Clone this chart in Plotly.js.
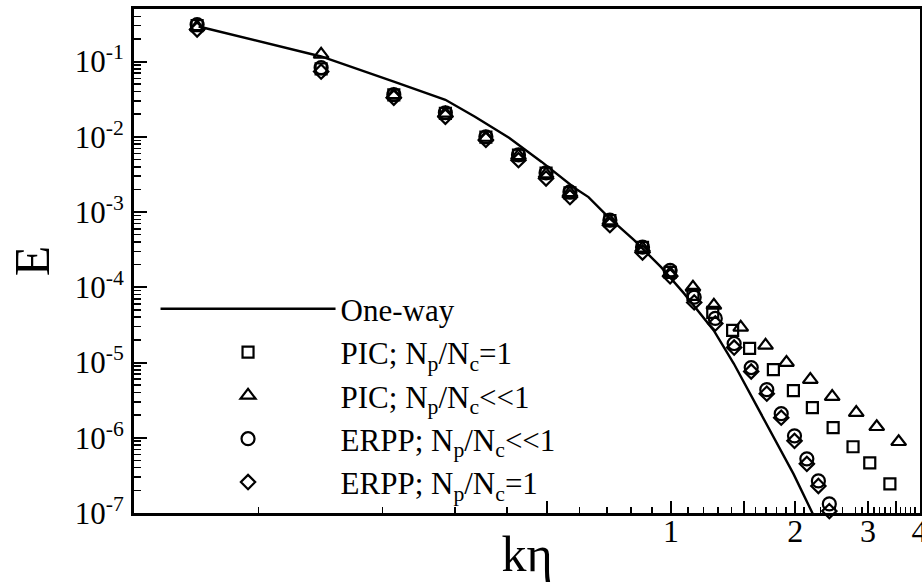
<!DOCTYPE html>
<html>
<head>
<meta charset="utf-8">
<script src="https://cdn.plot.ly/plotly-3.0.1.min.js"></script>
<style>
  html, body { margin: 0; padding: 0; background: #ffffff; }
  #chart { width: 922px; height: 582px; }
</style>
</head>
<body>
<div id="chart"></div>
<script>
// ---- Data ----
// One-way (solid line)
const kOneWay = [0.0717, 0.142, 0.213, 0.284, 0.335, 0.405, 0.486, 0.584, 0.631, 0.705, 0.814, 0.946, 1.075, 1.269, 1.419, 1.585, 1.77, 1.98, 2.2, 2.32];
const eOneWay = [0.293, 0.117, 0.054, 0.0311, 0.0185, 0.0097, 0.00464, 0.00209, 0.00158, 8.58e-4, 4.23e-4, 1.85e-4, 8.3e-5, 2.67e-5, 9.7e-6, 3.11e-6, 1.0e-6, 3.31e-7, 1.0e-7, 5.2e-8];

// PIC; Np/Nc=1 (squares)
const kPic1 = [0.0711, 0.142, 0.213, 0.284, 0.356, 0.427, 0.498, 0.569, 0.711, 0.853, 0.995, 1.13, 1.262, 1.41, 1.55, 1.77, 1.979, 2.2, 2.47, 2.76, 3.03, 3.39];
const ePic1 = [0.30, 0.080, 0.036, 0.0205, 0.0099, 0.0057, 0.0033, 0.0018, 7.7e-4, 3.4e-4, 1.58e-4, 8.07e-5, 4.64e-5, 2.67e-5, 1.54e-5, 8.07e-6, 4.23e-6, 2.51e-6, 1.36e-6, 7.59e-7, 4.64e-7, 2.44e-7];

// PIC; Np/Nc<<1 (triangles)
const kPicLow = [0.0711, 0.142, 0.213, 0.284, 0.356, 0.427, 0.498, 0.569, 0.711, 0.853, 0.995, 1.13, 1.27, 1.475, 1.694, 1.904, 2.175, 2.457, 2.81, 3.15, 3.56];
const ePicLow = [0.29, 0.125, 0.036, 0.0205, 0.0098, 0.0056, 0.0032, 0.0018, 7.6e-4, 3.3e-4, 1.54e-4, 1.0e-4, 5.75e-5, 2.93e-5, 1.69e-5, 1.0e-5, 5.93e-6, 3.52e-6, 2.16e-6, 1.4e-6, 8.85e-7];

// ERPP; Np/Nc<<1 (circles) and ERPP; Np/Nc=1 (diamonds)
const kErpp = [0.0711, 0.142, 0.213, 0.284, 0.356, 0.427, 0.498, 0.569, 0.711, 0.853, 0.995, 1.138, 1.280, 1.422, 1.564, 1.706, 1.849, 1.991, 2.133, 2.275, 2.418];
const eErppLow = [0.311, 0.083, 0.0363, 0.0209, 0.0100, 0.00575, 0.00331, 0.00185, 7.8e-4, 3.41e-4, 1.68e-4, 7.4e-5, 3.86e-5, 1.79e-5, 8.58e-6, 4.36e-6, 2.09e-6, 1.06e-6, 5.25e-7, 2.67e-7, 1.32e-7];
const eErpp1 = [0.267, 0.0736, 0.0331, 0.0185, 0.0091, 0.0049, 0.0028, 0.00158, 6.7e-4, 2.9e-4, 1.4e-4, 6.3e-5, 3.3e-5, 1.58e-5, 7.6e-6, 3.86e-6, 1.85e-6, 9.1e-7, 4.5e-7, 2.29e-7, 1.06e-7];

// Axis ticks
const xLabelVals = [1, 2, 3, 4];
const xLabelText = ["1", "2", "3", "4"];
const xLongUnlabeled = [0.5, 1.5, 3.5];
const xShortVals = [0.1, 0.2, 0.3, 0.4, 0.6, 0.7, 0.8, 0.9, 1.1, 1.2, 1.3, 1.4, 1.6, 1.7, 1.8, 1.9, 2.1, 2.3, 2.5, 2.6, 2.8, 2.9, 3.1, 3.2, 3.3, 3.4, 3.6, 3.7, 3.8, 3.9];
const yMajorVals = [1e-7, 1e-6, 1e-5, 1e-4, 1e-3, 1e-2, 1e-1];
const yMajorText = ["10<sup>-7</sup>", "10<sup>-6</sup>", "10<sup>-5</sup>", "10<sup>-4</sup>", "10<sup>-3</sup>", "10<sup>-2</sup>", "10<sup>-1</sup>"];
const yMinorMantissa = [2, 3, 4, 5, 6, 7, 8, 9];

const legendNames = [
  "One-way",
  "PIC; N<sub>p</sub>/N<sub>c</sub>=1",
  "PIC; N<sub>p</sub>/N<sub>c</sub>&lt;&lt;1",
  "ERPP; N<sub>p</sub>/N<sub>c</sub>&lt;&lt;1",
  "ERPP; N<sub>p</sub>/N<sub>c</sub>=1"
];

const yMinorVals = [];
yMajorVals.forEach(d => yMinorMantissa.forEach(m => { if (m * d <= 0.5) yMinorVals.push(m * d); }));

const FONT = "Liberation Serif, Times New Roman, serif";
const XRANGE = [Math.log10(0.05), Math.log10(4.01)];
const mk = (sym, size) => ({ symbol: sym, size: size, color: "#000", line: { color: "#000", width: 2.2 } });

const traces = [
  { x: kOneWay, y: eOneWay, xaxis: "x2", yaxis: "y", mode: "lines", name: legendNames[0], line: { color: "#000", width: 2.4 } },
  { x: kPic1, y: ePic1, xaxis: "x3", yaxis: "y", mode: "markers", name: legendNames[1], marker: mk("square-open", 11), cliponaxis: false },
  { x: kPicLow, y: ePicLow, mode: "markers", name: legendNames[2], marker: mk("triangle-up-open", 13), cliponaxis: false },
  { x: kErpp, y: eErppLow, mode: "markers", name: legendNames[3], marker: mk("circle-open", 13), cliponaxis: false },
  { x: kErpp, y: eErpp1, mode: "markers", name: legendNames[4], marker: mk("diamond-open", 11), cliponaxis: false }
];

const tickOnlyAxis = (vals, len, width) => ({
  type: "log", overlaying: "x", matches: "x", anchor: "y", side: "bottom",
  range: XRANGE,
  tickmode: "array", tickvals: vals, showticklabels: false,
  ticks: "inside", ticklen: len, tickwidth: width, tickcolor: "#000",
  showline: false, showgrid: false, zeroline: false
});

const layout = {
  width: 922, height: 582,
  margin: { l: 134, r: 2, t: 9, b: 69 },
  paper_bgcolor: "#fff", plot_bgcolor: "#fff",
  font: { family: FONT, color: "#000", size: 28 },
  showlegend: true,
  legend: {
    x: 0.0274, y: 0.458, xanchor: "left", yanchor: "top",
    bgcolor: "rgba(0,0,0,0)", borderwidth: 0,
    font: { family: FONT, size: 31, color: "#000" },
    itemwidth: 175, tracegroupgap: 0, traceorder: "normal"
  },
  xaxis: {
    type: "log",
    range: XRANGE,
    tickmode: "array", tickvals: xLabelVals, ticktext: xLabelText,
    ticks: "inside", ticklen: 12, tickwidth: 2, tickcolor: "#000",
    tickfont: { family: FONT, size: 32, color: "#000" },
    ticklabelstandoff: -12,
    ticklabeloverflow: "allow",
    showline: true, linewidth: 3, linecolor: "#000", mirror: true,
    showgrid: false, zeroline: false,
    title: { text: "kη", font: { family: FONT, size: 50, color: "#000" }, standoff: 12 }
  },
  xaxis2: tickOnlyAxis(xShortVals, 6, 1.5),
  xaxis3: tickOnlyAxis(xLongUnlabeled, 12, 2),
  yaxis: {
    type: "log",
    range: [-7, Math.log10(0.5)],
    tickmode: "array", tickvals: yMajorVals, ticktext: yMajorText,
    ticks: "inside", ticklen: 13, tickwidth: 2, tickcolor: "#000",
    tickfont: { family: FONT, size: 31, color: "#000" },
    ticklabelstandoff: 1,
    minor: { tickmode: "array", tickvals: yMinorVals, ticks: "inside", ticklen: 7, tickwidth: 1.5, tickcolor: "#000", showgrid: false },
    showline: true, linewidth: 3, linecolor: "#000", mirror: true,
    showgrid: false, zeroline: false,
    title: { text: "E", font: { family: FONT, size: 50, color: "#000" }, standoff: 10 }
  }
};

Plotly.newPlot("chart", traces, layout, { staticPlot: true, displayModeBar: false });
</script>
</body>
</html>
